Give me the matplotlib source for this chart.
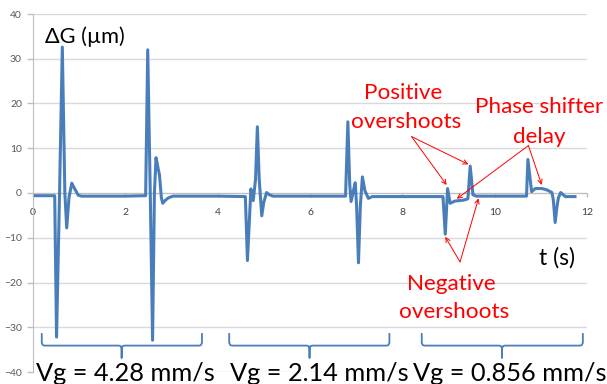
import matplotlib
matplotlib.use("Agg")
import matplotlib.pyplot as plt

# ---- data ----
t = [0.05, 0.47, 0.51, 0.575, 0.635, 0.69, 0.73, 0.78, 0.84, 0.90, 0.98, 1.05,
     2.00, 2.44, 2.485, 2.54, 2.59, 2.63, 2.665, 2.71, 2.74, 2.78, 2.81, 2.87, 2.93, 3.03,
     4.00, 4.60, 4.645, 4.72, 4.77, 4.82, 4.86, 4.90, 4.955, 5.00, 5.06, 5.12, 5.20,
     6.00, 6.77, 6.82, 6.86, 6.89, 6.94, 6.98, 7.01, 7.05, 7.09, 7.135, 7.19, 7.265, 7.35,
     8.00, 8.88, 8.93, 8.98, 9.035, 9.14, 9.325, 9.42, 9.47, 9.53, 9.60,
     10.00, 10.69, 10.72, 10.80, 10.88, 11.02, 11.13, 11.24, 11.27, 11.31, 11.35, 11.38,
     11.43, 11.53, 11.74]
dg = [-0.6, -0.6, -32.2, 0.0, 32.6, 0.0, -7.8, -1.0, 2.2, 1.0, -0.5, -0.7,
      -0.7, -0.6, 32.0, 0.0, -32.9, 0.0, 7.9, 5.5, 4.0, -1.0, -2.3, -1.6, -1.1, -0.7,
      -0.7, -0.8, -15.1, 0.9, -1.7, 3.0, 14.8, 3.0, -5.1, -2.0, 0.1, -0.4, -0.7,
      -0.7, -0.7, 15.9, 2.0, -1.9, 0.5, 2.3, -3.0, -15.6, -3.0, 3.6, 0.5, -1.2, -0.8,
      -0.8, -0.8, -9.2, 1.0, -2.3, -1.8, -1.6, -1.3, 6.0, -0.4, -0.7,
      -0.7, -0.7, 7.5, 0.3, 1.0, 1.0, 0.7, 0.1, -1.5, -6.6, -3.0, -1.1,
      0.1, -0.8, -0.8]

x_ticks = [0, 2, 4, 6, 8, 10, 12]
y_ticks = [-40, -30, -20, -10, 0, 10, 20, 30, 40]

group_labels = ["Vg = 4.28 mm/s", "Vg = 2.14 mm/s", "Vg = 0.856 mm/s"]
group_spans = [(0.19, 3.66), (4.25, 7.72), (8.42, 11.91)]
group_centers = [1.92, 5.99, 10.16]
label_centers = [2.0, 6.21, 10.33]

BLUE = "#4A7EBB"
RED = "#FF0000"
FONT = ["Lato", "DejaVu Sans"]

fig = plt.figure(figsize=(6.07, 3.84), dpi=100)
ax = fig.add_axes([33/607, 12/384, 554/607, 358/384])
ax.set_xlim(0, 12)
ax.set_ylim(-40, 40)

ax.set_yticks(y_ticks)
ax.set_xticks(x_ticks)
ax.yaxis.grid(True, color="#D9D9D9", lw=1.0, zorder=0)
ax.set_axisbelow(True)
for s in ["top", "right"]:
    ax.spines[s].set_visible(False)
ax.spines["left"].set_color("#BFBFBF")
ax.spines["bottom"].set_position(("data", 0))
ax.spines["bottom"].set_color("#BFBFBF")
ax.tick_params(axis="y", colors="#BFBFBF", length=4, width=1, pad=4,
               labelcolor="#595959", labelsize=7.5)
ax.tick_params(axis="x", colors="#BFBFBF", length=3, width=1, pad=8,
               labelcolor="#404040", labelsize=7.5)
for lab in ax.get_xticklabels() + ax.get_yticklabels():
    lab.set_family(FONT)

ax.plot(t, dg, color=BLUE, lw=2.2, solid_joinstyle="round", zorder=3)

# braces
for (a, b), c in zip(group_spans, group_centers):
    r = 0.06
    xs = [a, a, a + r * 0.4, a + r, c - r, c - r * 0.4, c, c,
          c, c + r * 0.4, c + r, b - r, b - r * 0.4, b, b]
    ys = [-31.5, -33.5, -34.0, -34.1, -34.1, -34.2, -34.7, -36.8,
          -34.7, -34.2, -34.1, -34.1, -34.0, -33.5, -31.5]
    ax.plot(xs, ys, color=BLUE, lw=1.3, clip_on=False, zorder=2,
            solid_joinstyle="round")

for lab, xc in zip(group_labels, label_centers):
    ax.text(xc, -42.0, lab, ha="center", va="baseline", fontsize=18.3,
            family=FONT, color="black", zorder=1, clip_on=False)

ax.text(0.26, 33.5, "ΔG (µm)", ha="left", va="baseline", fontsize=15.7,
        family=FONT, color="black")
ax.text(11.36, -15.9, "t (s)", ha="center", va="baseline", fontsize=16.5,
        family=FONT, color="black")

# red annotations
FS = 16.2
ax.text(8.02, 21.0, "Positive", ha="center", va="baseline", fontsize=FS,
        family=FONT, color=RED)
ax.text(8.09, 14.5, "overshoots", ha="center", va="baseline", fontsize=FS,
        family=FONT, color=RED)
ax.text(10.96, 17.9, "Phase shifter", ha="center", va="baseline", fontsize=FS,
        family=FONT, color=RED)
ax.text(10.96, 11.2, "delay", ha="center", va="baseline", fontsize=FS,
        family=FONT, color=RED)
ax.text(9.07, -21.7, "Negative", ha="center", va="baseline", fontsize=FS,
        family=FONT, color=RED)
ax.text(9.12, -27.9, "overshoots", ha="center", va="baseline", fontsize=FS,
        family=FONT, color=RED)

ap = dict(arrowstyle="->", color=RED, lw=0.7, shrinkA=0, shrinkB=0,
          mutation_scale=8)
for src, dst in [((8.2, 12.6), (8.96, 1.8)), ((8.2, 12.6), (9.43, 6.4)),
                 ((10.73, 10.6), (9.18, -1.3)), ((10.73, 10.6), (11.02, 1.8)),
                 ((9.25, -15.4), (8.93, -9.8)), ((9.25, -15.4), (9.65, -1.2))]:
    ax.annotate("", xy=dst, xytext=src, arrowprops=ap, zorder=4)

fig.savefig("out.png", dpi=100)
